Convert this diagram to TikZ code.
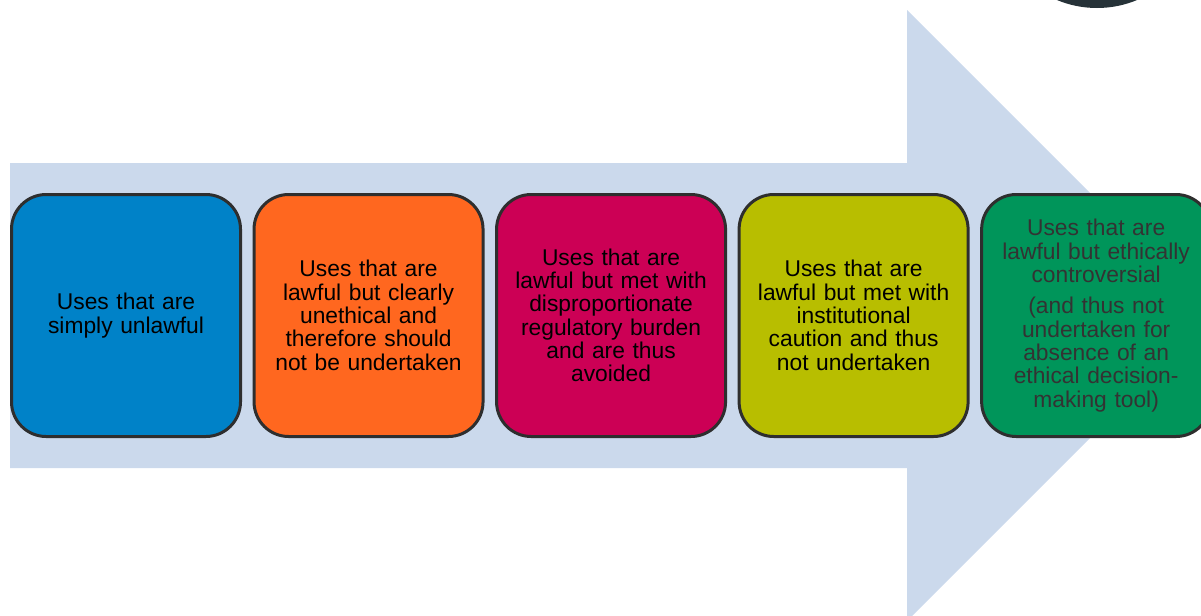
\documentclass[tikz,border=0pt]{standalone}
\usepackage{fontspec}
\setmainfont{Liberation Sans}
\usetikzlibrary{positioning}

\definecolor{arrowblue}{HTML}{CBD9EC}
\definecolor{boxline}{HTML}{2E2E2E}
\definecolor{useblue}{HTML}{0082C8}
\definecolor{useorange}{HTML}{FF671F}
\definecolor{usered}{HTML}{CC0055}
\definecolor{useolive}{HTML}{B8BE00}
\definecolor{usegreen}{HTML}{00955A}
\definecolor{ringdark}{HTML}{263238}

\begin{document}
\begin{tikzpicture}[x=0.75pt,y=-0.75pt,node distance=181.9pt,
    box/.style={
        rectangle,
        rounded corners=26pt,
        draw=boxline, line width=2.25pt,
        minimum width=171.75pt,
        minimum height=181.5pt,
        text width=150pt,
        align=center,
        font=\fontsize{17.1pt}{17.5pt}\selectfont}
    ]
    \useasboundingbox (0,0) rectangle (1201,615);

    % big arrow behind the boxes
    \fill [arrowblue] (10,163) -- (907,163) -- (907,10) -- (1212.5,315.5)
        -- (907,621) -- (907,468) -- (10,468) -- cycle;
    \fill [ringdark] (1097,-96) circle (104);

    \node (unlawful) [box, fill=useblue] at (126,315.5) {Uses that are\\simply unlawful};
    \node (unethical) [box, fill=useorange, right of=unlawful] {Uses that are\\lawful but clearly\\unethical and\\therefore should\\not be undertaken};
    \node (burden) [box, fill=usered, right of=unethical] {Uses that are\\lawful but met with\\disproportionate\\regulatory burden\\and are thus\\avoided};
    \node (caution) [box, fill=useolive, right of=burden] {Uses that are\\lawful but met with\\institutional\\caution and thus\\not undertaken};
    \node (controversial) [box, fill=usegreen, text=black!80, right of=caution] {Uses that are\\lawful but ethically\\controversial\\[6pt](and thus not\\undertaken for\\absence of an\\ethical decision-\\making tool)};

\end{tikzpicture}
\end{document}
